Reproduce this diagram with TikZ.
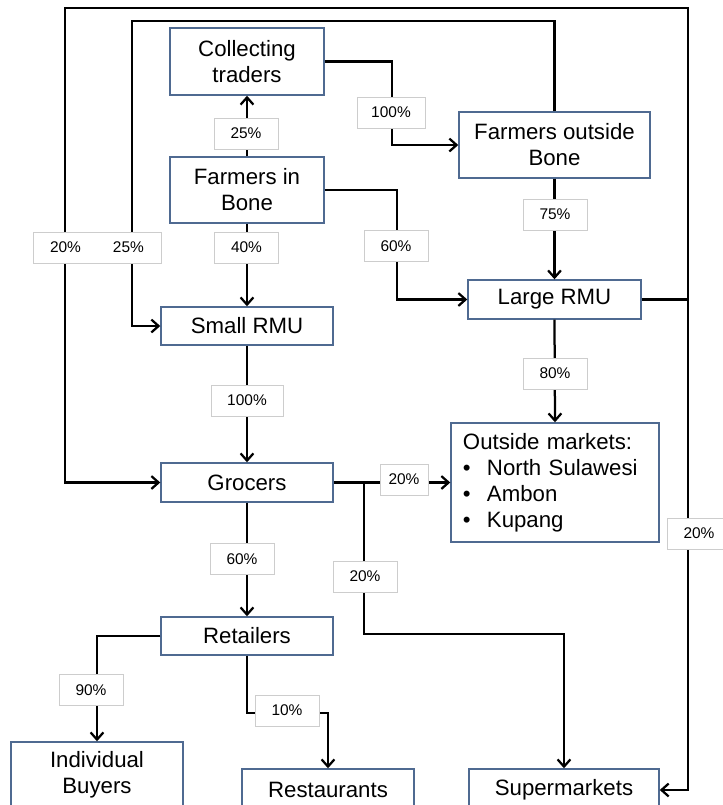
\documentclass[tikz,border=0pt]{standalone}
\usepackage{fontspec}
\setmainfont{Liberation Sans}
\usepackage{tikz}
\usetikzlibrary{arrows.meta,positioning}
\definecolor{boxedge}{RGB}{79,106,145}
\definecolor{tagedge}{RGB}{205,205,205}

\begin{document}
\begin{tikzpicture}[x=0.025cm,y=-0.025cm,
  actor/.style={draw=boxedge, line width=1pt, fill=white, align=center,
    font=\fontsize{15.8}{18.5}\selectfont, inner sep=2pt},
  share/.style={draw=tagedge, line width=0.6pt, fill=white,
    font=\fontsize{11}{13}\selectfont, minimum width=1.6cm,
    minimum height=0.775cm, inner sep=1pt},
  wire/.style={line width=1.6pt},
  flow/.style={wire, -{Straight Barb[length=1.8mm,width=3.2mm,line width=1.6pt]}}]
  \useasboundingbox (0,0) rectangle (723,805);
  % actors of the chain
  \node[actor, minimum width=3.85cm, minimum height=1.675cm] (coll) at (247,61.5) {Collecting\\traders};
  \node[actor, minimum width=3.85cm, minimum height=1.65cm] (fib) at (247,190) {Farmers in\\Bone};
  \node[actor, minimum width=4.775cm, minimum height=1.65cm] (fob) at (554.5,145) {Farmers outside\\Bone};
  \node[actor, minimum width=4.3cm, minimum height=0.95cm] (small) at (247,326) {Small RMU};
  \node[actor, minimum width=4.325cm, minimum height=0.975cm] (large) at (554.5,299.5) {Large RMU};
  \node[actor, text width=4.6cm, inner xsep=0.3cm, minimum height=2.975cm, align=left] (outm) at (555,482.5)
    {Outside markets:\\
     \makebox[0.6cm][l]{•}North Sulawesi\\
     \makebox[0.6cm][l]{•}Ambon\\
     \makebox[0.6cm][l]{•}Kupang};
  \node[actor, minimum width=4.3cm, minimum height=0.975cm] (groc) at (247,482.5) {Grocers};
  \node[actor, minimum width=4.3cm, minimum height=0.95cm] (ret) at (247,636) {Retailers};
  \node[actor, minimum width=4.3cm, minimum height=1.65cm] (ind) at (97,775) {Individual\\Buyers};
  \node[actor, minimum width=4.3cm, minimum height=1.05cm] (rest) at (328,790) {Restaurants};
  \node[actor, minimum width=4.75cm, minimum height=1.05cm] (sup) at (564,790) {Supermarkets};
  % bends of the connectors
  \coordinate (kCT) at (392,100);
  \coordinate (kFB) at (397,240);
  \coordinate (kIn) at (132,21);
  \coordinate (kR) at (688,299.5);
  \coordinate (kTR) at (688,8);
  \coordinate (kTL) at (65,8);
  \coordinate (kG) at (364,482.5);
  \coordinate (kS) at (364,634);
  \coordinate (kRs) at (287,713);
  % flows
  \draw[flow] (fib.north) -- (coll.south);
  \draw[flow] (coll.east) -| (kCT) |- (fob.west);
  \draw[flow] (fib.east) -| (kFB) |- (large.west);
  \draw[flow] (fib.south) -- (small.north);
  \draw[flow] (fob.south) -- (large.north);
  \draw[flow] (fob.north) |- (kIn) |- (small.west);
  \draw[flow] (large.east) -- (kR) -- (kTR) -- (kTL) |- (groc.west);
  \draw[flow] (kR) |- (sup.east);
  \draw[flow] (large.south) -- (outm.north);
  \draw[flow] (small.south) -- (groc.north);
  \draw[flow] (groc.east) -- (outm.west);
  \draw[flow] (kG) -- (kS) -| (sup.north);
  \draw[flow] (groc.south) -- (ret.north);
  \draw[flow] (ret.west) -| (ind.north);
  \draw[flow] (ret.south) |- (kRs) -| (rest.north);
  % shares on the flows
  \node[share] (s25a) at (246,133.5) {25\%};
  \node[share] (s40) at (246.5,247.5) {40\%};
  \node[share, minimum width=3.2cm] (s2025) at (97,247.5) {20\%\hspace{0.8cm}25\%};
  \node[share, minimum width=1.7cm] (s100a) at (391,112.5) {100\%};
  \node[share] (s60a) at (396,246) {60\%};
  \node[share] (s75) at (555,214.5) {75\%};
  \node[share] (s80) at (555,373.5) {80\%};
  \node[share, minimum width=1.8cm] (s100b) at (247,400.5) {100\%};
  \node[share, minimum width=1.2cm] (s20b) at (404,479.5) {20\%};
  \node[share] (s20c) at (365,576.5) {20\%};
  \node[share] (s60b) at (242,559) {60\%};
  \node[share] (s90) at (91,690) {90\%};
  \node[share] (s10) at (287,710.5) {10\%};
  \node[share] (s20d) at (699,533.5) {20\%};
\end{tikzpicture}
\end{document}
